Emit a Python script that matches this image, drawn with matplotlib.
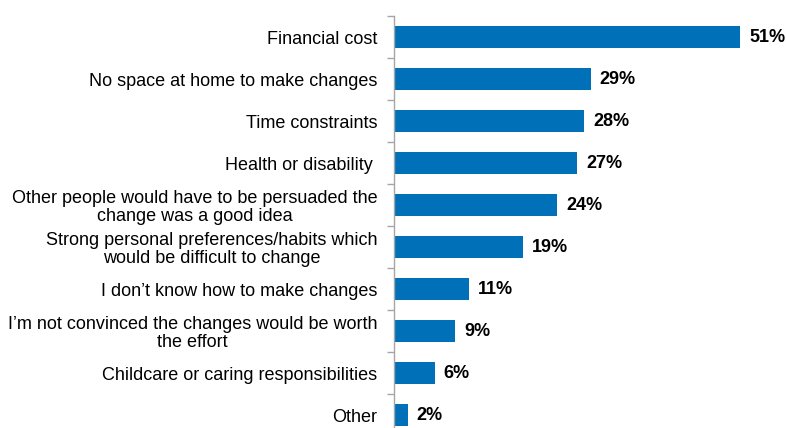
import matplotlib
matplotlib.use("Agg")
import matplotlib.pyplot as plt
import numpy as np

plt.rcParams['font.family'] = ['Liberation Sans', 'DejaVu Sans']

categories = [
    "Financial cost",
    "No space at home to make changes",
    "Time constraints",
    "Health or disability ",
    "Other people would have to be persuaded the\nchange was a good idea",
    "Strong personal preferences/habits which\nwould be difficult to change",
    "I don\u2019t know how to make changes",
    "I\u2019m not convinced the changes would be worth\nthe effort",
    "Childcare or caring responsibilities",
    "Other",
]
values = [51, 29, 28, 27, 24, 19, 11, 9, 6, 2]

W, H = 786, 428
fig = plt.figure(figsize=(W / 100, H / 100), dpi=100)
ax_left, ax_top, ax_bottom_px = 394, 16, 436
ax = fig.add_axes([ax_left / W, (H - ax_bottom_px) / H, 407 / W, (ax_bottom_px - ax_top) / H])

y = np.arange(len(categories))
ax.barh(y, values, height=0.52, color='#0070B8', zorder=2)
ax.set_xlim(0, 60)
ax.set_ylim(len(categories) - 0.5, -0.5)

for yi, v in zip(y, values):
    ax.text(v + 1.35, yi, f"{v}%", va='center', ha='left', fontsize=13, fontweight='bold', color='#000000')

ax.set_yticks(y)
ax.set_yticklabels(categories, fontsize=13, multialignment='center', linespacing=1.1)
ax.tick_params(axis='y', which='major', length=0, pad=12)
ax.set_yticks(np.arange(-0.5, len(categories), 1), minor=True)
ax.tick_params(axis='y', which='minor', length=5, width=1, color='#A6A6A6', direction='out')
ax.set_xticks([])

for s in ['top', 'right', 'bottom']:
    ax.spines[s].set_visible(False)
ax.spines['left'].set_color('#A6A6A6')
ax.spines['left'].set_linewidth(1)

fig.savefig("out.png", dpi=100)
